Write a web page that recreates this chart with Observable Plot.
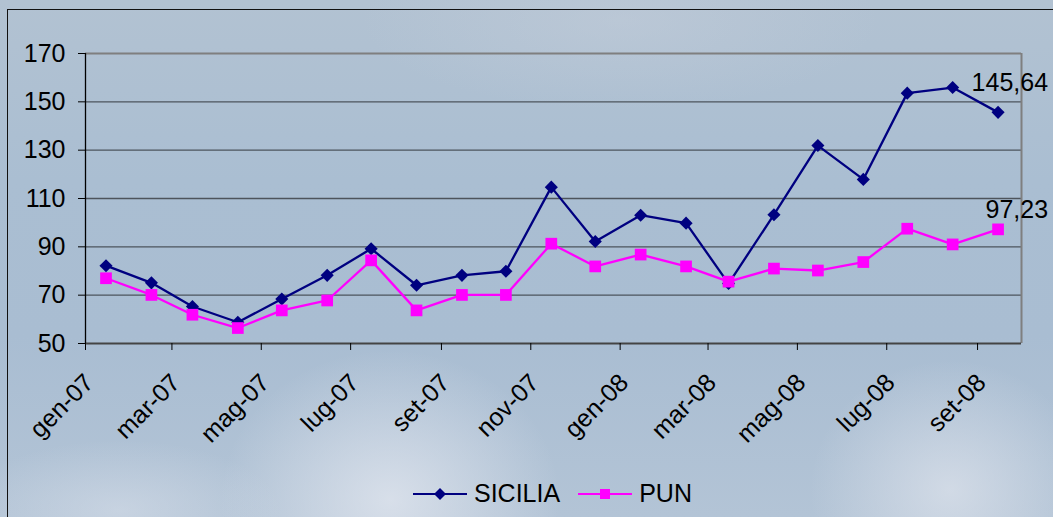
<!DOCTYPE html>
<html>
<head>
<meta charset="utf-8">
<script src="https://cdn.jsdelivr.net/npm/d3@7"></script>
<script src="https://cdn.jsdelivr.net/npm/@observablehq/plot@0.6"></script>
<style>
  body { margin: 0; }
  #wrap {
    position: relative; width: 1053px; height: 517px; overflow: hidden;
    font-family: "Liberation Sans", Arial, sans-serif;
    background:
      radial-gradient(ellipse 170px 150px at 390px 500px, rgba(228,232,240,0.75), rgba(228,232,240,0) 100%),
      radial-gradient(ellipse 140px 130px at 950px 490px, rgba(226,230,238,0.65), rgba(226,230,238,0) 100%),
      radial-gradient(ellipse 160px 70px at 120px 510px, rgba(220,226,236,0.5), rgba(220,226,236,0) 100%),
      radial-gradient(ellipse 260px 90px at 620px 20px, rgba(200,208,220,0.4), rgba(200,208,220,0) 100%),
      linear-gradient(to bottom, #b2c2d2 0%, #aabed2 35%, #a9bdd2 65%, #b3c4d6 100%);
  }
  #frame { position: absolute; left: 7px; top: 9px; width: 1060px; height: 530px;
    border-left: 1px solid #111; border-top: 1px solid #111; pointer-events: none; }
  #chart { position: absolute; left: 0; top: 0; }
  #legend { position: absolute; left: 413px; top: 470px; height: 47px; display: flex; align-items: center;
    font-size: 25px; color: #000; }
  .item { display: flex; align-items: center; margin-right: 18px; }
  .item span { margin-left: 7px; }
</style>
</head>
<body>
<div id="wrap">
  <div id="chart"></div>
  <div id="frame"></div>
  <div id="legend"></div>
</div>
<script>
// ---- data ----
const months = ["2007-01","2007-02","2007-03","2007-04","2007-05","2007-06","2007-07","2007-08","2007-09","2007-10","2007-11","2007-12",
                "2008-01","2008-02","2008-03","2008-04","2008-05","2008-06","2008-07","2008-08","2008-09"];
const sicilia = [82.2, 75.1, 65.3, 58.8, 68.4, 78.2, 89.2, 74.1, 78.2, 79.9, 114.7, 92.2,
                 103.1, 99.8, 74.8, 103.3, 131.9, 117.9, 153.6, 155.9, 145.64];
const pun = [77.0, 70.1, 61.9, 56.4, 63.7, 67.8, 84.4, 63.7, 70.1, 70.1, 91.3, 81.9,
             86.8, 81.9, 75.6, 81.0, 80.2, 83.7, 97.5, 91.0, 97.23];
const seriesNames = ["SICILIA", "PUN"];
const seriesColors = ["#000080", "#ff00ff"];
const tickMonths = ["2007-01","2007-03","2007-05","2007-07","2007-09","2007-11","2008-01","2008-03","2008-05","2008-07","2008-09"];
const tickLabels = ["gen-07","mar-07","mag-07","lug-07","set-07","nov-07","gen-08","mar-08","mag-08","lug-08","set-08"];
const yTicks = [50, 70, 90, 110, 130, 150, 170];
const endLabels = ["145,64", "97,23"];
const xStart = "2007-01", xEnd = "2008-10";

// ---- build ----
const monthStart = m => new Date(m + "-01T00:00:00Z");
const monthMid = m => new Date(m + "-15T00:00:00Z");
const rowsS = months.map((m, i) => ({date: monthMid(m), value: sicilia[i]}));
const rowsP = months.map((m, i) => ({date: monthMid(m), value: pun[i]}));
const tickDates = tickMonths.map(monthStart);
const labelOf = new Map(tickDates.map((d, i) => [+d, tickLabels[i]]));
const xDomain = [monthStart(xStart), monthStart(xEnd)];

const chart = Plot.plot({
  width: 1053, height: 470,
  marginLeft: 85, marginRight: 32, marginTop: 53, marginBottom: 127,
  style: {background: "transparent", fontFamily: "'Liberation Sans', Arial, sans-serif", color: "#000", overflow: "visible"},
  x: {type: "utc", domain: xDomain},
  y: {domain: [yTicks[0], yTicks[yTicks.length - 1]]},
  marks: [
    Plot.ruleY(yTicks.slice(1, -1), {stroke: "#4d545c", strokeWidth: 1.3}),
    Plot.ruleY([yTicks[yTicks.length - 1]], {stroke: "#7f7f7f", strokeWidth: 2}),
    Plot.ruleX([xDomain[1]], {stroke: "#7f7f7f", strokeWidth: 2}),
    Plot.ruleY([yTicks[0]], {stroke: "#444", strokeWidth: 2}),
    Plot.ruleX([xDomain[0]], {stroke: "#000", strokeWidth: 1.3}),
    Plot.axisY({ticks: yTicks, tickSize: 7, tickPadding: 13, fontSize: 25, label: null}),
    // tick marks only
    Plot.axisX({ticks: tickDates, tickFormat: () => "", tickSize: 7, label: null}),
    // rotated labels only
    Plot.axisX({ticks: tickDates, tickFormat: d => labelOf.get(+d), tickRotate: -45, tickSize: 0, tickPadding: 11,
                fontSize: 25, label: null, dx: 4, dy: 24}),
    Plot.line(rowsS, {x: "date", y: "value", stroke: seriesColors[0], strokeWidth: 2.3}),
    Plot.dot(rowsS, {x: "date", y: "value", symbol: "diamond2", r: 5.9, fill: seriesColors[0], stroke: "none"}),
    Plot.line(rowsP, {x: "date", y: "value", stroke: seriesColors[1], strokeWidth: 2.3}),
    Plot.dot(rowsP, {x: "date", y: "value", symbol: "square", r: 6.6, fill: seriesColors[1], stroke: "none"}),
    Plot.text([rowsS[rowsS.length - 1]], {x: "date", y: "value", text: () => endLabels[0], textAnchor: "end",
               dx: 50, dy: -29, fontSize: 25, fill: "#000"}),
    Plot.text([rowsP[rowsP.length - 1]], {x: "date", y: "value", text: () => endLabels[1], textAnchor: "end",
               dx: 50, dy: -19, fontSize: 25, fill: "#000"})
  ]
});
document.getElementById("chart").appendChild(chart);

// ---- legend ----
const legend = document.getElementById("legend");
seriesNames.forEach((name, i) => {
  const item = document.createElement("div");
  item.className = "item";
  const marker = i === 0
    ? `<path d="M27,4 L33,10 L27,16 L21,10 Z" fill="${seriesColors[i]}"/>`
    : `<rect x="22" y="5" width="10" height="10" fill="${seriesColors[i]}"/>`;
  item.innerHTML = `<svg width="54" height="20"><line x1="0" y1="10" x2="54" y2="10" stroke="${seriesColors[i]}" stroke-width="2"/>${marker}</svg><span>${name}</span>`;
  legend.appendChild(item);
});
</script>
</body>
</html>
